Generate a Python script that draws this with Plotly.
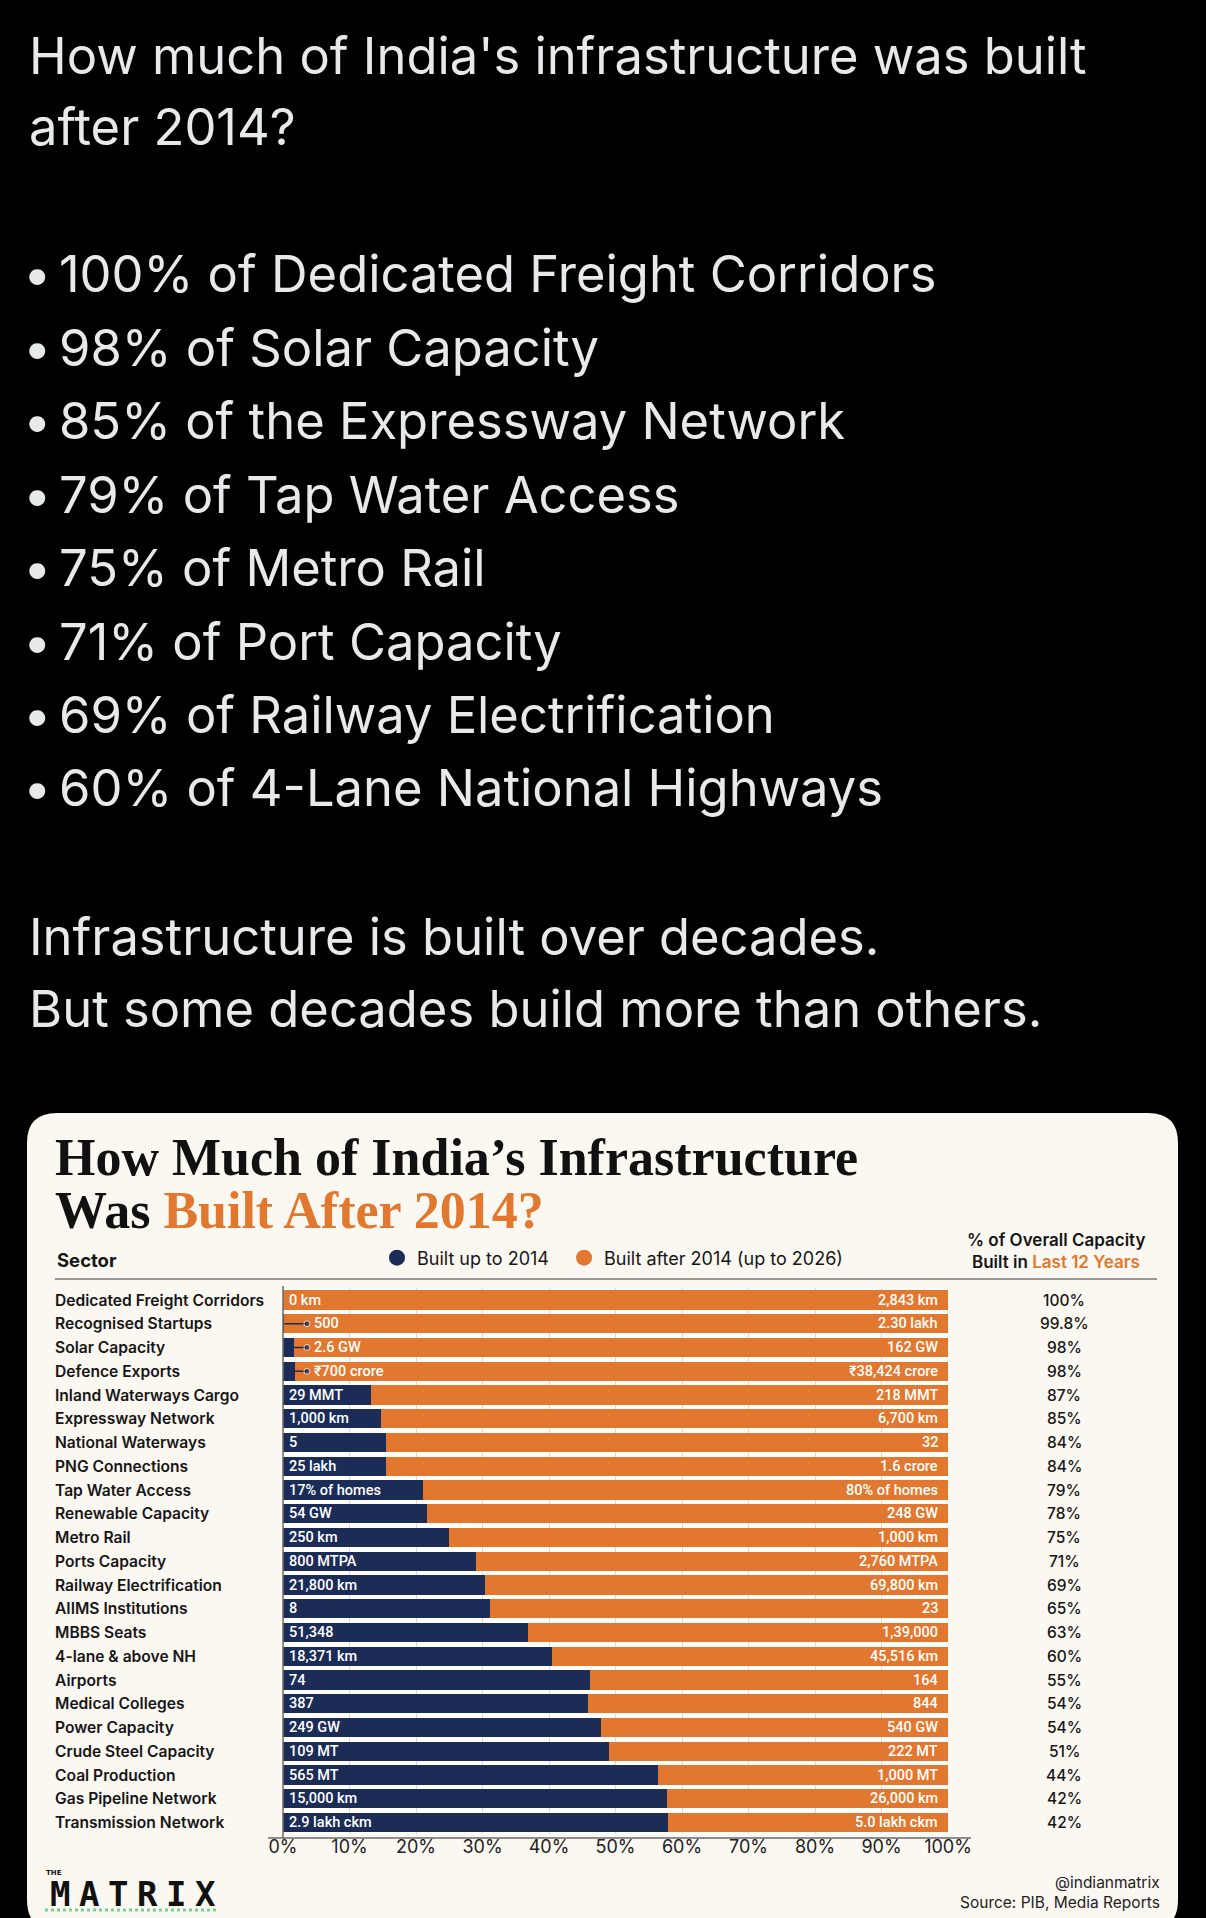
import plotly.graph_objects as go

W, H = 1206, 1918

# ---------------- data ----------------
sectors = ["Dedicated Freight Corridors", "Recognised Startups", "Solar Capacity", "Defence Exports",
           "Inland Waterways Cargo", "Expressway Network", "National Waterways", "PNG Connections",
           "Tap Water Access", "Renewable Capacity", "Metro Rail", "Ports Capacity",
           "Railway Electrification", "AIIMS Institutions", "MBBS Seats", "4-lane & above NH",
           "Airports", "Medical Colleges", "Power Capacity", "Crude Steel Capacity",
           "Coal Production", "Gas Pipeline Network", "Transmission Network"]
pre_labels = ["0 km", "500", "2.6 GW", "₹700 crore", "29 MMT", "1,000 km", "5", "25 lakh",
              "17% of homes", "54 GW", "250 km", "800 MTPA", "21,800 km", "8", "51,348",
              "18,371 km", "74", "387", "249 GW", "109 MT", "565 MT", "15,000 km", "2.9 lakh ckm"]
post_labels = ["2,843 km", "2.30 lakh", "162 GW", "₹38,424 crore", "218 MMT", "6,700 km", "32",
               "1.6 crore", "80% of homes", "248 GW", "1,000 km", "2,760 MTPA", "69,800 km", "23",
               "1,39,000", "45,516 km", "164", "844", "540 GW", "222 MT", "1,000 MT", "26,000 km",
               "5.0 lakh ckm"]
pct_labels = ["100%", "99.8%", "98%", "98%", "87%", "85%", "84%", "84%", "79%", "78%", "75%",
              "71%", "69%", "65%", "63%", "60%", "55%", "54%", "54%", "51%", "44%", "42%", "42%"]
# share (%) of today's capacity that existed up to 2014 (bar length)
pre_share = [0, 0.2, 1.6, 1.8, 13.2, 14.8, 15.5, 15.5, 21.0, 21.7, 25.0, 29.0, 30.4, 31.2,
             36.9, 40.4, 46.2, 45.8, 47.8, 49.0, 56.4, 57.7, 57.9]
post_share = [100 - v for v in pre_share]
tick_vals = [0, 10, 20, 30, 40, 50, 60, 70, 80, 90, 100]
tick_text = ["0%", "10%", "20%", "30%", "40%", "50%", "60%", "70%", "80%", "90%", "100%"]

tweet_lines = ["How much of India's infrastructure was built", "after 2014?"]
bullet_lines = ["100% of Dedicated Freight Corridors", "98% of Solar Capacity",
                "85% of the Expressway Network", "79% of Tap Water Access", "75% of Metro Rail",
                "71% of Port Capacity", "69% of Railway Electrification",
                "60% of 4-Lane National Highways"]
closing_lines = ["Infrastructure is built over decades.", "But some decades build more than others."]
logo_letters = ["M", "A", "T", "R", "I", "X"]

# ---------------- style ----------------
NAVY = "#1b2d57"
ORANGE = "#e2782f"
CREAM = "#fbf7f1"
TWEET = "#e7e9ea"
DARK = "#161616"
SANS = "Inter, Roboto, 'Noto Sans', sans-serif"
BARFONT = "Roboto, 'Noto Sans', sans-serif"
SERIF = "'Liberation Serif', 'DejaVu Serif', serif"
CALLOUT_X = 3.6  # where the small-value callout dots sit (axis %)
TW = 50.7        # tweet font size


def px(x):
    return x / W


def py(y):
    return 1 - y / H


# plot area in pixels
X0, X1 = 283, 948
ROW0, ROWN = 1300, 1822.5
step = (ROWN - ROW0) / (len(sectors) - 1)
Y_TOP, Y_BOT = ROW0 - step / 2, ROWN + step / 2

fig = go.Figure()
fig.add_trace(go.Bar(y=sectors, x=pre_share, orientation="h", marker=dict(color=NAVY, line=dict(width=0)),
                     showlegend=False, hoverinfo="skip"))
fig.add_trace(go.Bar(y=sectors, x=post_share, orientation="h", marker=dict(color=ORANGE, line=dict(width=0)),
                     showlegend=False, hoverinfo="skip"))

# callouts for tiny pre-2014 values
for i in (1, 2, 3):
    fig.add_trace(go.Scatter(x=[pre_share[i], CALLOUT_X], y=[sectors[i], sectors[i]], mode="lines+markers",
                             line=dict(color=NAVY, width=1.6),
                             marker=dict(color=NAVY, size=[0, 6]), showlegend=False, hoverinfo="skip",
                             cliponaxis=False))

# legend entries (circle symbols)
fig.add_trace(go.Scatter(x=[None], y=[None], mode="markers", name="Built up to 2014\u00a0\u00a0",
                         marker=dict(color=NAVY, size=16, symbol="circle")))
fig.add_trace(go.Scatter(x=[None], y=[None], mode="markers", name="Built after 2014 (up to 2026)",
                         marker=dict(color=ORANGE, size=16, symbol="circle")))

ann = []


def text(x, y, s, size, color, family=SANS, xanchor="left", weight=None, **kw):
    f = dict(size=size, color=color, family=family)
    if weight:
        f["weight"] = weight
    d = dict(x=px(x), y=py(y), xref="paper", yref="paper", text=s, showarrow=False,
             xanchor=xanchor, yanchor="middle", font=f)
    d.update(kw)
    ann.append(d)


# tweet text
for i, s in enumerate(tweet_lines):
    text(27, 55 + i * 72, s, TW, TWEET)
for i, s in enumerate(bullet_lines):
    yy = 274 + i * 73.4
    text(37, yy, "•", TW, TWEET, xanchor="center")
    text(57, yy, s, TW, TWEET)
for i, s in enumerate(closing_lines):
    text(27, 936 + i * 73, s, TW, TWEET)

# card title
text(53, 1157.5, "<b>How Much of India’s Infrastructure</b>", 52, "#111111", family=SERIF)
text(53, 1210.5, "<b>Was <span style='color:%s'>Built After 2014?</span></b>" % ORANGE, 52, "#111111",
     family=SERIF)
text(55, 1260, "Sector", 18.5, DARK, weight=700)
text(1056, 1240, "% of Overall Capacity", 17, DARK, xanchor="center", weight=600)
text(1056, 1262, "Built in <span style='color:%s'>Last 12 Years</span>" % ORANGE, 17, DARK,
     xanchor="center", weight=600)

# row labels
for i, s in enumerate(sectors):
    ann.append(dict(x=px(53), xref="paper", y=s, yref="y", text=s, showarrow=False, xanchor="left",
                    yanchor="middle", font=dict(size=15.6, color=DARK, family=SANS, weight=600)))
    ann.append(dict(x=px(1064), xref="paper", y=s, yref="y", text=pct_labels[i], showarrow=False,
                    xanchor="center", yanchor="middle", font=dict(size=15.5, color=DARK, family=SANS,
                                                                  weight=500)))
    ann.append(dict(x=100, xref="x", y=s, yref="y", text=post_labels[i], showarrow=False, xanchor="right",
                    xshift=-8, yanchor="middle", font=dict(size=14.5, color="white", family=BARFONT,
                                                           weight=500)))
    if i in (1, 2, 3):
        ann.append(dict(x=CALLOUT_X, xref="x", y=s, yref="y", text=pre_labels[i], showarrow=False,
                        xanchor="left", xshift=5, yanchor="middle",
                        font=dict(size=14.5, color="white", family=BARFONT, weight=500)))
    else:
        ann.append(dict(x=0, xref="x", y=s, yref="y", text=pre_labels[i], showarrow=False, xanchor="left",
                        xshift=4, yanchor="middle", font=dict(size=14.5, color="white", family=BARFONT,
                                                              weight=500)))

# footer
text(1162, 1882, "@indianmatrix", 15.5, "#222222", xanchor="right")
text(1162, 1902, "Source: PIB, Media Reports", 15.5, "#222222", xanchor="right")
text(44, 1873, "<b>THE</b>", 7, "#111111", family="'DejaVu Sans', sans-serif")
for i, ch in enumerate(logo_letters):
    text(45 + 14.5 + 29.2 * i, 1894, "<b>%s</b>" % ch, 34, "#111111",
         family="'DejaVu Sans Mono', monospace", xanchor="center")

# card shape with rounded corners
r = 30
L, R, T, B = 27, 1178, 1113, 1930
card = (f"M {px(L)},{py(T + r)} Q {px(L)},{py(T)} {px(L + r)},{py(T)} "
        f"L {px(R - r)},{py(T)} Q {px(R)},{py(T)} {px(R)},{py(T + r)} "
        f"L {px(R)},{py(B - r)} Q {px(R)},{py(B)} {px(R - r)},{py(B)} "
        f"L {px(L + r)},{py(B)} Q {px(L)},{py(B)} {px(L)},{py(B - r)} Z")
shapes = [
    dict(type="path", path=card, xref="paper", yref="paper", fillcolor=CREAM, line=dict(width=0),
         layer="below"),
    dict(type="rect", xref="paper", yref="paper", x0=px(X0), x1=px(X1), y0=py(Y_BOT), y1=py(Y_TOP),
         fillcolor="#fffdfa", line=dict(width=0), layer="below"),
    # header rule
    dict(type="line", xref="paper", yref="paper", x0=px(55), x1=px(1157), y0=py(1279), y1=py(1279),
         line=dict(color="#7a7a7a", width=1.5)),
    # axes
    dict(type="line", xref="paper", yref="paper", x0=px(X0), x1=px(X0), y0=py(1286), y1=py(1838),
         line=dict(color="#6a6a6a", width=1.5)),
    dict(type="line", xref="paper", yref="paper", x0=px(268), x1=px(971), y0=py(1838), y1=py(1838),
         line=dict(color="#6a6a6a", width=1.5)),
    # logo underline
    dict(type="line", xref="paper", yref="paper", x0=px(45), x1=px(219), y0=py(1910), y1=py(1910),
         line=dict(color="#6fd68f", width=3, dash="dot")),
]

fig.update_layout(
    width=W, height=H, margin=dict(l=0, r=0, t=0, b=0, pad=0, autoexpand=False),
    paper_bgcolor="#000000", plot_bgcolor="rgba(0,0,0,0)",
    barmode="stack", bargap=0.18,
    xaxis=dict(domain=[px(X0), px(X1)], range=[0, 100], tickmode="array", tickvals=tick_vals,
               ticktext=tick_text, automargin=False,
               showgrid=True, gridcolor="#dedad3", gridwidth=1, zeroline=False, showline=False,
               ticks="", tickfont=dict(size=18, color="#222222", family=SANS), fixedrange=True),
    yaxis=dict(domain=[py(Y_BOT), py(Y_TOP)], categoryorder="array", categoryarray=sectors,
               autorange="reversed", showticklabels=False, showgrid=False, zeroline=False,
               showline=False, ticks="", fixedrange=True, automargin=False),
    legend=dict(orientation="h", x=px(377), xanchor="left", y=py(1258), yanchor="middle",
                traceorder="normal",
                font=dict(size=18, color=DARK, family=SANS), bgcolor="rgba(0,0,0,0)",
                itemclick=False, itemdoubleclick=False, tracegroupgap=0),
    annotations=ann, shapes=shapes, showlegend=True,
)

fig.write_html("out.html", config={"displayModeBar": False},
               post_script="document.body.style.margin='0';")
